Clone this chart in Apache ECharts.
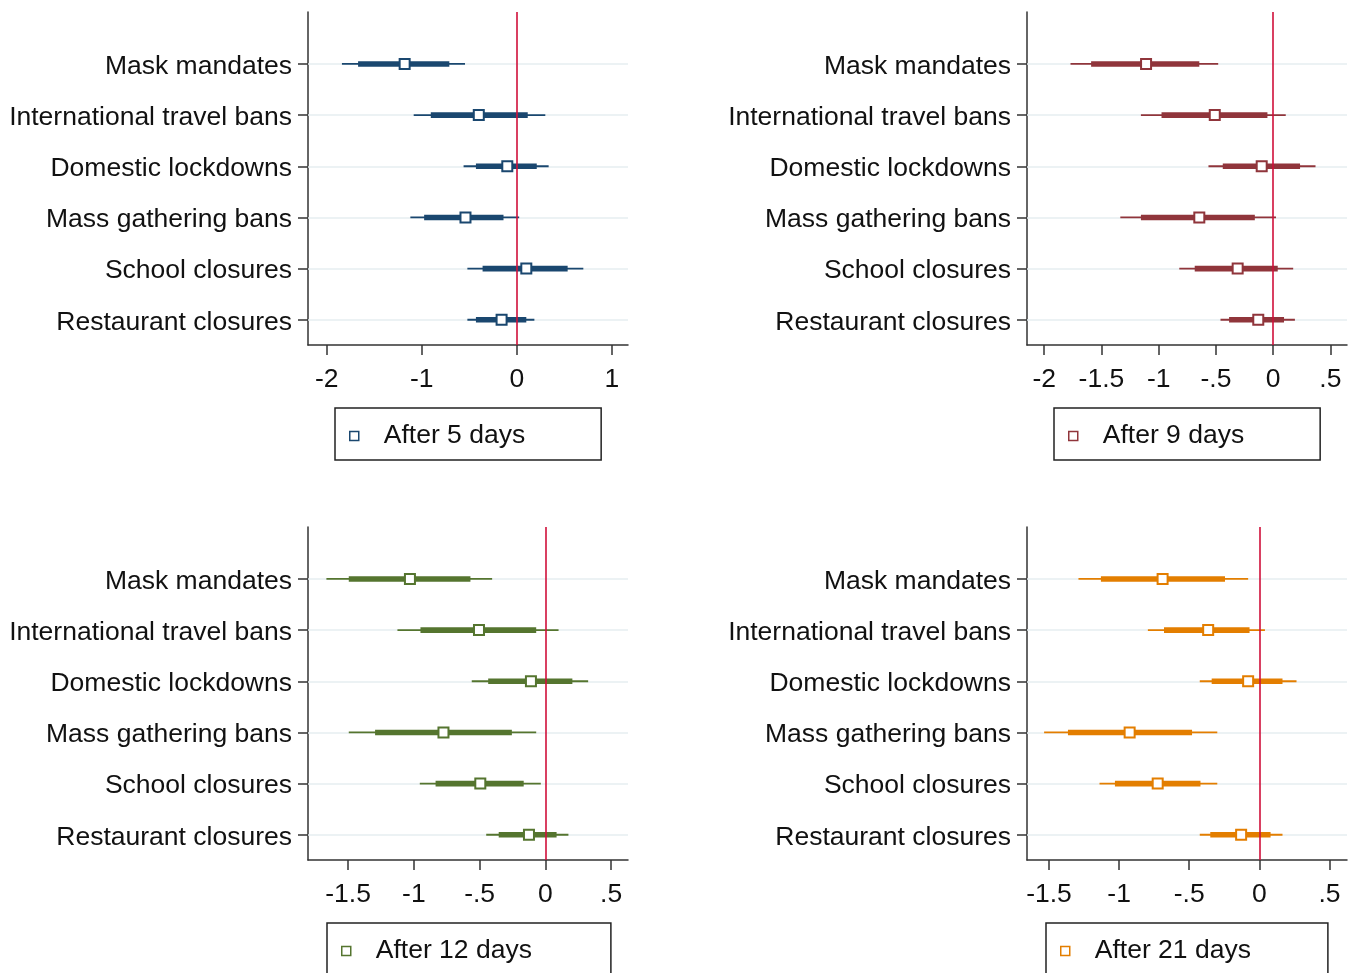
<!DOCTYPE html>
<html>
<head>
<meta charset="utf-8">
<script src="https://cdn.jsdelivr.net/npm/echarts@6/dist/echarts.min.js"></script>
<style>html,body{margin:0;padding:0;background:#fff}#c{width:1359px;height:973px}</style>
</head>
<body>
<div id="c"></div>
<script>
// Categories, top to bottom
const categories = ['Mask mandates','International travel bans','Domestic lockdowns','Mass gathering bans','School closures','Restaurant closures'];
const catPos = [6,5,4,3,2,1];

const panelNames = ['After 5 days','After 9 days','After 12 days','After 21 days'];
const panelColors = ['#1a476f','#90353b','#55752f','#e37e00'];

// Point estimates
const est5  = [-1.18, -0.40, -0.10, -0.54, 0.10, -0.16];
const est9  = [-1.11, -0.51, -0.10, -0.645, -0.31, -0.13];
const est12 = [-1.03, -0.505, -0.11, -0.775, -0.495, -0.125];
const est21 = [-0.69, -0.365, -0.08, -0.925, -0.725, -0.13];
// Inner (thick) intervals
const innerLo5  = [-1.67, -0.905, -0.43, -0.975, -0.36, -0.43];
const innerHi5  = [-0.71, 0.115, 0.21, -0.14, 0.535, 0.10];
const innerLo9  = [-1.59, -0.975, -0.44, -1.155, -0.685, -0.385];
const innerHi9  = [-0.645, -0.05, 0.235, -0.16, 0.04, 0.095];
const innerLo12 = [-1.495, -0.95, -0.435, -1.295, -0.835, -0.355];
const innerHi12 = [-0.57, -0.07, 0.205, -0.255, -0.165, 0.085];
const innerLo21 = [-1.13, -0.68, -0.34, -1.365, -1.03, -0.35];
const innerHi21 = [-0.245, -0.07, 0.165, -0.48, -0.42, 0.08];
// Outer (thin) intervals
const outerLo5  = [-1.84, -1.085, -0.56, -1.12, -0.52, -0.52];
const outerHi5  = [-0.545, 0.30, 0.335, 0.025, 0.70, 0.185];
const outerLo9  = [-1.77, -1.155, -0.565, -1.335, -0.82, -0.46];
const outerHi9  = [-0.48, 0.11, 0.37, 0.025, 0.175, 0.19];
const outerLo12 = [-1.665, -1.125, -0.56, -1.495, -0.955, -0.45];
const outerHi12 = [-0.405, 0.10, 0.325, -0.07, -0.035, 0.175];
const outerLo21 = [-1.29, -0.795, -0.425, -1.535, -1.14, -0.425];
const outerHi21 = [-0.08, 0.04, 0.265, -0.30, -0.30, 0.165];

// x-axis tick labels and ranges
const xTicks5  = [-2, -1, 0, 1];
const xTicks9  = [-2, -1.5, -1, -0.5, 0, 0.5];
const xTicks12 = [-1.5, -1, -0.5, 0, 0.5];
const xTicks21 = [-1.5, -1, -0.5, 0, 0.5];
const xMin = [-2.197, -2.15, -1.805, -1.657];
const xMax = [1.17, 0.645, 0.628, 0.625];

const panels = [
  {est: est5,  iLo: innerLo5,  iHi: innerHi5,  oLo: outerLo5,  oHi: outerHi5,  ticks: xTicks5},
  {est: est9,  iLo: innerLo9,  iHi: innerHi9,  oLo: outerLo9,  oHi: outerHi9,  ticks: xTicks9},
  {est: est12, iLo: innerLo12, iHi: innerHi12, oLo: outerLo12, oHi: outerHi12, ticks: xTicks12},
  {est: est21, iLo: innerLo21, iHi: innerHi21, oLo: outerLo21, oHi: outerHi21, ticks: xTicks21}
];

const FONT = 'Liberation Sans, Arial, sans-serif';
const gridBoxes = [
  {left: 308, top: 12, width: 320, height: 333},
  {left: 1027, top: 12, width: 320, height: 333},
  {left: 308, top: 527, width: 320, height: 333},
  {left: 1027, top: 527, width: 320, height: 333}
];
const legendPos = [
  {left: 335, top: 408, padRight: 76},
  {left: 1054, top: 408, padRight: 76},
  {left: 327, top: 923, padRight: 79},
  {left: 1046, top: 923, padRight: 77}
];

function fmtTick(v) {
  let s = String(v);
  s = s.replace(/^0\./, '.').replace(/^-0\./, '-.');
  return s;
}

const option = {
  animation: false,
  backgroundColor: '#fff',
  grid: gridBoxes.map(g => Object.assign({containLabel: false}, g)),
  xAxis: panels.map((p, i) => ({
    type: 'value', gridIndex: i, min: xMin[i], max: xMax[i],
    splitLine: {show: false},
    axisLine: {show: true, onZero: false, lineStyle: {color: '#333', width: 1.5}},
    axisTick: {show: true, length: 10, lineStyle: {color: '#333', width: 1.5}, customValues: p.ticks},
    axisLabel: {show: true, customValues: p.ticks, formatter: fmtTick, fontSize: 26.5, fontFamily: FONT, color: '#111', margin: 21}
  })),
  yAxis: panels.map((p, i) => ({
    type: 'value', gridIndex: i, min: 0.506, max: 7.016,
    splitLine: {show: false},
    axisLine: {show: true, onZero: false, lineStyle: {color: '#333', width: 1.5}},
    axisTick: {show: true, length: 10, lineStyle: {color: '#333', width: 1.5}, customValues: catPos},
    axisLabel: {show: true, customValues: catPos,
      formatter: v => '{c|' + (categories[catPos.indexOf(v)] || '') + '}',
      margin: 16,
      rich: {c: {fontSize: 26.5, fontFamily: FONT, color: '#111', padding: [5, 0, 0, 0]}}}
  })),
  legend: panels.map((p, i) => ({
    left: legendPos[i].left, top: legendPos[i].top, orient: 'horizontal',
    data: [{name: panelNames[i], icon: 'rect', itemStyle: {color: '#fff', borderColor: panelColors[i], borderWidth: 1.5}}],
    itemWidth: 9, itemHeight: 9, itemGap: 0,
    borderColor: '#222', borderWidth: 1.5, backgroundColor: '#fff',
    padding: [13, legendPos[i].padRight, 9, 14],
    selectedMode: false,
    textStyle: {fontSize: 26.5, fontFamily: FONT, color: '#111', padding: [0, 0, 0, 20], lineHeight: 30}
  })),
  series: []
};

panels.forEach((p, i) => {
  const col = panelColors[i];
  // grid lines behind
  option.series.push({
    type: 'line', xAxisIndex: i, yAxisIndex: i, data: [], silent: true, z: 1,
    markLine: {silent: true, z: 1, symbol: 'none', label: {show: false}, animation: false,
      lineStyle: {color: '#e6eef1', width: 1.5, type: 'solid'},
      data: catPos.map(v => ({yAxis: v}))}
  });
  option.series.push({
    type: 'custom', name: panelNames[i], xAxisIndex: i, yAxisIndex: i, z: 3,
    itemStyle: {color: col},
    encode: {x: [1, 2, 3, 4, 5], y: 0},
    data: catPos.map((y, k) => [y, p.oLo[k], p.iLo[k], p.est[k], p.iHi[k], p.oHi[k]]),
    renderItem: function (params, api) {
      const y = api.value(0);
      const a = api.coord([api.value(1), y]);
      const b = api.coord([api.value(2), y]);
      const c = api.coord([api.value(3), y]);
      const d = api.coord([api.value(4), y]);
      const e = api.coord([api.value(5), y]);
      return {type: 'group', children: [
        {type: 'rect', shape: {x: a[0], y: a[1] - 0.9, width: e[0] - a[0], height: 1.8}, style: {fill: col, stroke: null, lineWidth: 0}},
        {type: 'rect', shape: {x: b[0], y: b[1] - 2.8, width: d[0] - b[0], height: 5.6}, style: {fill: col, stroke: null, lineWidth: 0}},
        {type: 'rect', shape: {x: c[0] - 5, y: c[1] - 5, width: 10, height: 10}, style: {fill: '#fff', stroke: col, lineWidth: 2}}
      ]};
    }
  });
  // zero reference line on top
  option.series.push({
    type: 'line', xAxisIndex: i, yAxisIndex: i, data: [], silent: true, z: 5,
    markLine: {silent: true, z: 6, symbol: 'none', label: {show: false}, animation: false,
      lineStyle: {color: '#d0103a', width: 1.6, type: 'solid'},
      data: [{xAxis: 0}]}
  });
});

const chart = echarts.init(document.getElementById('c'), null, {renderer: 'canvas'});
chart.setOption(option);
</script>
</body>
</html>
